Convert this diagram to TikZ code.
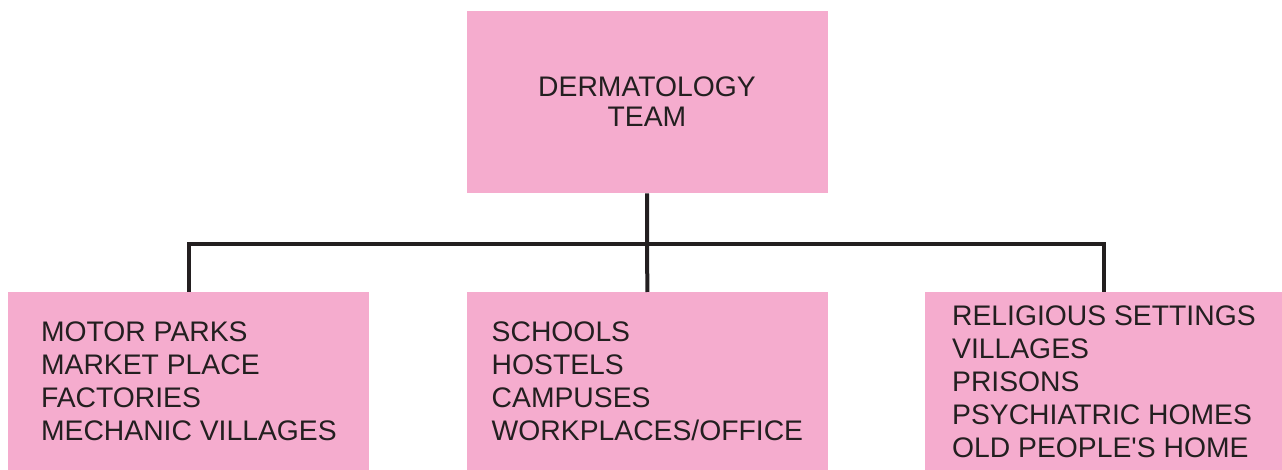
\documentclass[tikz,border=0pt]{standalone}
\usepackage{fontspec}
\setmainfont{Liberation Sans}
\usepackage{tikz}
\usetikzlibrary{positioning}

\definecolor{boxpink}{RGB}{245,172,206}
\definecolor{inkdark}{RGB}{35,31,32}

\tikzset{
  teambox/.style={fill=boxpink,inner sep=0pt,minimum width=180.5pt,minimum height=91pt,
    align=center,text=inkdark,font=\fontsize{14.15}{15}\selectfont},
  placebox/.style={fill=boxpink,inner sep=0pt,minimum width=180.5pt,minimum height=89pt,
    align=left,text=inkdark,font=\fontsize{14.15}{16.5}\selectfont},
  link/.style={draw=inkdark,line width=2pt,line join=miter}
}

\begin{document}
\begin{tikzpicture}[x=0.5pt,y=-0.5pt]
%%\draw[help lines] (0,0) grid (1282,470);
\useasboundingbox (0,0) rectangle (1282,470);
\node[teambox] (team) at (647,102) {DERMATOLOGY\\TEAM};
\node[placebox,anchor=north west] (markets) at (8,292)
  {MOTOR PARKS\\MARKET PLACE\\FACTORIES\\MECHANIC VILLAGES};
\node[placebox,anchor=north west] (schools) at (466.5,292)
  {SCHOOLS\\HOSTELS\\CAMPUSES\\WORKPLACES/OFFICE};
\node[placebox,anchor=north west,minimum width=178.5pt] (homes) at (925,292)
  {RELIGIOUS SETTINGS\\VILLAGES\\PRISONS\\PSYCHIATRIC HOMES\\OLD PEOPLE\textquotesingle S HOME};
\coordinate (bus) at (team.south |- 0,244);
\draw[link] (team.south)--(bus)--(schools.north);
\draw[link] (markets.north) |- (bus) -| (homes.north);
\end{tikzpicture}
\end{document}
